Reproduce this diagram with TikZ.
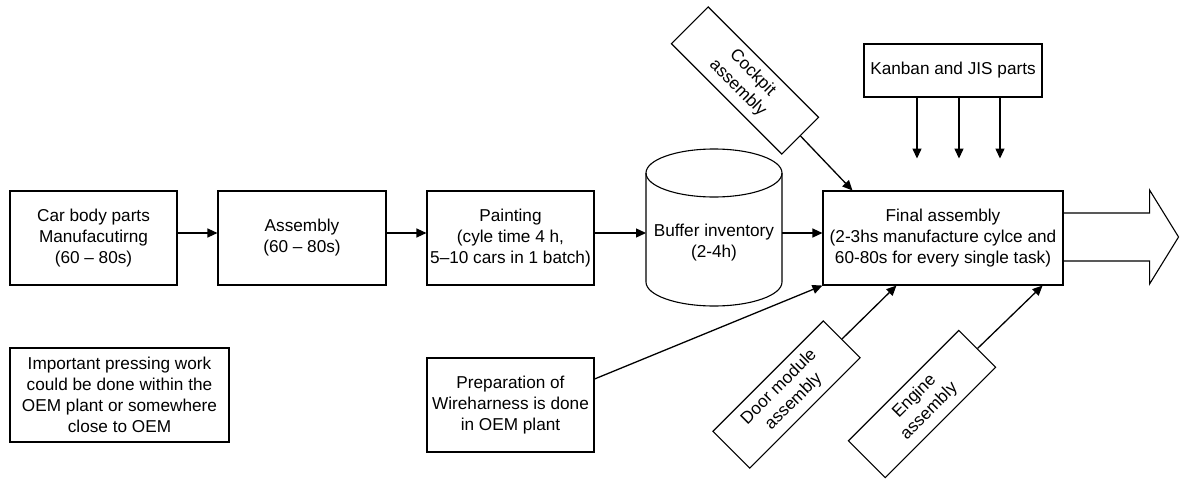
\documentclass[tikz,border=0pt]{standalone}
\usepackage{fontspec}
\setmainfont{Liberation Sans}
\usetikzlibrary{arrows.meta}
\begin{document}
\begin{tikzpicture}[x=1pt,y=1pt,
  font=\fontsize{17.2}{21}\selectfont,
  box/.style={draw, line width=1.1pt, align=center, inner sep=2pt},
  arr/.style={line width=1.3pt, -{Triangle[length=10pt,width=9pt]}}]
\useasboundingbox (0,0) rectangle (1181,-479);

% main line
\node[box, minimum width=167pt, minimum height=94pt] (body) at (93.5,-238)
  {Car body parts\\Manufacutirng\\(60 -- 80s)};
\node[box, minimum width=168pt, minimum height=94pt] (asm) at (302,-238)
  {Assembly\\(60 -- 80s)};
\node[box, minimum width=167pt, minimum height=94pt] (paint) at (510.5,-238)
  {Painting\\(cyle time 4 h,\\5--10 cars in 1 batch)};

% buffer inventory drum
\draw[line width=1.1pt] (714,-173) ellipse[x radius=68pt, y radius=24pt];
\draw[line width=1.1pt] (646,-173) -- (646,-282)
  arc[start angle=180, end angle=360, x radius=68pt, y radius=24pt] -- (782,-173);
\node[align=center] (buf) at (714,-243) {Buffer inventory\\(2-4h)};
\coordinate (bufL) at (646,-233);
\coordinate (bufR) at (782,-233);

\node[box, minimum width=240pt, minimum height=94pt] (fin) at (943,-238)
  {Final assembly\\(2-3hs manufacture cylce and\\60-80s for every single task)};

\draw[arr] ([yshift=5pt]body.east) -- ([yshift=5pt]asm.west);
\draw[arr] ([yshift=5pt]asm.east) -- ([yshift=5pt]paint.west);
\draw[arr] ([yshift=5pt]paint.east) -- (bufL);
\draw[arr] (bufR) -- ([yshift=5pt]fin.west);

% outgoing flow
\draw[line width=1.1pt] ([yshift=25pt]fin.east) -- ++(86pt,0) -- ++(0,23pt)
  -- ++(29pt,-47pt) -- ++(-29pt,-47pt) -- ++(0,23pt) -- ([yshift=-23pt]fin.east);

% supplying processes
\node[box, minimum width=178pt, minimum height=53pt] (kan) at (953,-70.5)
  {Kanban and JIS parts};
\draw[arr] ([xshift=-36pt]kan.south) -- ++(0,-61pt);
\draw[arr] ([xshift=6pt]kan.south) -- ++(0,-61pt);
\draw[arr] ([xshift=47pt]kan.south) -- ++(0,-61pt);

\node[box, rotate=-45, minimum width=156pt, minimum height=52pt] (cock) at (745,-80.5)
  {Cockpit\\assembly};
\draw[arr] (cock.east) -- ([xshift=30pt]fin.north west);

\node[box, rotate=45, minimum width=156pt, minimum height=52pt] (door) at (786.5,-394.5)
  {Door module\\assembly};
\draw[arr] (door.east) -- ([xshift=74pt]fin.south west);

\node[box, rotate=45, minimum width=156pt, minimum height=52pt] (eng) at (922,-404)
  {Engine\\assembly};
\draw[arr] (eng.east) -- ([xshift=-21pt]fin.south east);

\node[box, minimum width=167pt, minimum height=94pt] (wire) at (510.5,-405)
  {Preparation of\\Wireharness is done\\in OEM plant};
\draw[arr] ([yshift=26pt]wire.east) -- (fin.south west);

% note
\node[box, minimum width=219pt, minimum height=94pt] (note) at (119.5,-395)
  {Important pressing work\\could be done within the\\OEM plant or somewhere\\close to OEM};
\end{tikzpicture}
\end{document}
